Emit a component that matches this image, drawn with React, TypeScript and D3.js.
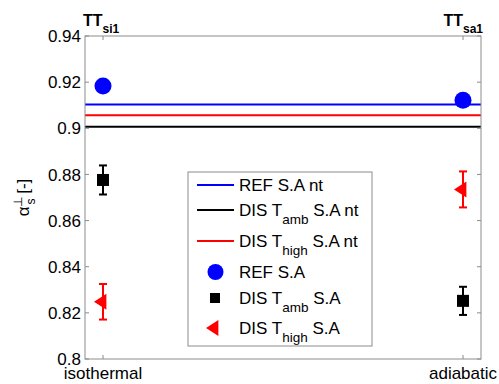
import React from "react";
import * as d3 from "d3";

const categories = ["isothermal", "adiabatic"];
const topLabels = [["TT", "si1"], ["TT", "sa1"]];
const yTicks = [0.8, 0.82, 0.84, 0.86, 0.88, 0.9, 0.92, 0.94];

const refNt = 0.9103;
const ambNt = 0.9007;
const highNt = 0.9056;

const refSA = [0.9183, 0.9122];
const ambSA = [0.8776, 0.8252];
const ambErr = [0.0063, 0.0061];
const highSA = [0.8248, 0.8735];
const highErr = [0.0077, 0.0078];

const W = 499, H = 384;
const L = 85, R = 481, T = 36, B = 359;
const FONT = "Liberation Sans, Arial, sans-serif";
const AX = "#8c8c8c";

export default function App() {
  const x = d3.scaleLinear().domain([0.95, 2.05]).range([L, R]);
  const y = d3.scaleLinear().domain([0.8, 0.94]).range([B, T]);
  const cx = (i: number) => x(i + 1);

  const legendRows = [
    { kind: "line", color: "#0000ff", main: "REF S.A nt", sub: "", after: "", y: 185 },
    { kind: "line", color: "#000000", main: "DIS T", sub: "amb", after: " S.A nt", y: 210 },
    { kind: "line", color: "#ff0000", main: "DIS T", sub: "high", after: " S.A nt", y: 241 },
    { kind: "circle", color: "#0000ff", main: "REF S.A", sub: "", after: "", y: 272 },
    { kind: "square", color: "#000000", main: "DIS T", sub: "amb", after: " S.A", y: 298 },
    { kind: "tri", color: "#ff0000", main: "DIS T", sub: "high", after: " S.A", y: 328 },
  ];

  const tri = (px: number, py: number, s: number) =>
    `M${px - s},${py} L${px + s * 0.55},${py - s} L${px + s * 0.55},${py + s} Z`;

  const errBar = (i: number, v: number, e: number, color: string) => (
    <g key={`eb${color}${i}`} stroke={color} strokeWidth={2}>
      <line x1={cx(i)} x2={cx(i)} y1={y(v - e)} y2={y(v + e)} />
      <line x1={cx(i) - 4} x2={cx(i) + 4} y1={y(v - e)} y2={y(v - e)} />
      <line x1={cx(i) - 4} x2={cx(i) + 4} y1={y(v + e)} y2={y(v + e)} />
    </g>
  );

  return (
    <svg width={W} height={H} style={{ position: "absolute", left: 0, top: 0, background: "#fff" }} fontFamily={FONT}>
      {/* nt lines */}
      <line x1={L} x2={R} y1={y(ambNt)} y2={y(ambNt)} stroke="#000" strokeWidth={2} />
      <line x1={L} x2={R} y1={y(highNt)} y2={y(highNt)} stroke="#ff0000" strokeWidth={2} />
      <line x1={L} x2={R} y1={y(refNt)} y2={y(refNt)} stroke="#0000ff" strokeWidth={2} />

      {/* frame */}
      <rect x={L} y={T} width={R - L} height={B - T} fill="none" stroke={AX} strokeWidth={1} />
      {yTicks.map((t) => (
        <g key={t}>
          <line x1={L} x2={L + 4} y1={y(t)} y2={y(t)} stroke={AX} />
          <line x1={R - 4} x2={R} y1={y(t)} y2={y(t)} stroke={AX} />
          <text x={L - 4} y={y(t)} dy="0.36em" textAnchor="end" fontSize={17} fill="#000">
            {d3.format("")(t)}
          </text>
        </g>
      ))}
      {categories.map((c, i) => (
        <g key={c}>
          <line x1={cx(i)} x2={cx(i)} y1={B} y2={B - 4} stroke={AX} />
          <line x1={cx(i)} x2={cx(i)} y1={T} y2={T + 4} stroke={AX} />
          <text x={cx(i)} y={B + 20} textAnchor="middle" fontSize={17} fill="#000">{c}</text>
        </g>
      ))}
      {/* top labels */}
      <text x={cx(0) - 20} y={26} fontSize={16} fontWeight="bold" fill="#000">
        {topLabels[0][0]}
        <tspan dy={7} fontSize={12}>{topLabels[0][1]}</tspan>
      </text>
      <text x={R + 2} y={26} fontSize={16} fontWeight="bold" fill="#000" textAnchor="end">
        {topLabels[1][0]}
        <tspan dy={7} fontSize={12}>{topLabels[1][1]}</tspan>
      </text>

      {/* y label */}
      <g transform={`translate(29, ${(T + B) / 2}) rotate(-90)`}>
        <text textAnchor="middle" fontSize={17} fill="#000">
          α<tspan dy={-7} fontSize={12}>⊥</tspan>
          <tspan dx={-8} dy={13} fontSize={12}>s</tspan>
          <tspan dy={-6}> [-]</tspan>
        </text>
      </g>

      {/* markers */}
      {refSA.map((v, i) => (
        <circle key={`r${i}`} cx={cx(i)} cy={y(v)} r={8.5} fill="#0000ff" />
      ))}
      {ambSA.map((v, i) => errBar(i, v, ambErr[i], "#000"))}
      {ambSA.map((v, i) => (
        <rect key={`a${i}`} x={cx(i) - 6} y={y(v) - 6} width={12} height={12} fill="#000" />
      ))}
      {highSA.map((v, i) => errBar(i, v, highErr[i], "#ff0000"))}
      {highSA.map((v, i) => (
        <path key={`h${i}`} d={tri(cx(i) - 1, y(v), 8)} fill="#ff0000" />
      ))}

      {/* legend */}
      <rect x={188} y={172} width={184} height={174} fill="#fff" stroke={AX} />
      {legendRows.map((r, k) => (
        <g key={k}>
          {r.kind === "line" && <line x1={197} x2={234} y1={r.y} y2={r.y} stroke={r.color} strokeWidth={2} />}
          {r.kind === "circle" && <circle cx={215.5} cy={r.y} r={8} fill={r.color} />}
          {r.kind === "square" && <rect x={210} y={r.y - 5} width={10} height={10} fill={r.color} />}
          {r.kind === "tri" && <path d={tri(214, r.y, 8)} fill={r.color} />}
          <text x={239} y={r.y} dy="0.36em" fontSize={17} fill="#000">
            {r.main}
            {r.sub && <tspan dy={8} fontSize={13.5}>{r.sub}</tspan>}
            {r.after && <tspan dy={r.sub ? -8 : 0}>{r.after}</tspan>}
          </text>
        </g>
      ))}
    </svg>
  );
}
